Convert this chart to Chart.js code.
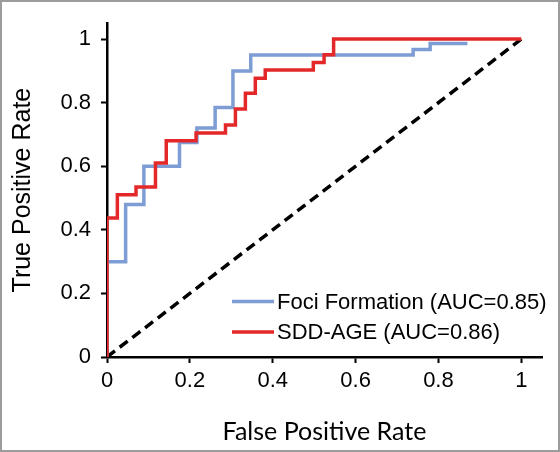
<!DOCTYPE html>
<html>
<head>
<meta charset="utf-8">
<script src="https://cdn.jsdelivr.net/npm/chart.js@4.4.1/dist/chart.umd.min.js"></script>
<style>
  html, body { margin: 0; padding: 0; background: #fff; }
  #wrap { width: 560px; height: 452px; }
</style>
</head>
<body>
<div id="wrap"><canvas id="rocChart" width="560" height="452"></canvas></div>
<script>
// ROC points (x = false positive rate, y = true positive rate)
const fociFpr = [0, 0.045, 0.089, 0.175, 0.217, 0.261, 0.304, 0.347, 0.739, 0.78, 0.87];
const fociTpr = [0, 0.30, 0.48, 0.60, 0.675, 0.72, 0.785, 0.90, 0.95, 0.967, 0.986];

const sddFpr = [0, 0.025, 0.07, 0.117, 0.143, 0.215, 0.286, 0.31, 0.334, 0.358, 0.382, 0.498, 0.524, 0.547, 1.0];
const sddTpr = [0, 0.437, 0.51, 0.535, 0.61, 0.68, 0.705, 0.73, 0.78, 0.83, 0.877, 0.903, 0.926, 0.951, 1.0];

const chanceX = [0, 1];
const chanceY = [0, 1];

const seriesLabels = ["Foci Formation (AUC=0.85)", "SDD-AGE (AUC=0.86)"];
const xTitle = "False Positive Rate";
const yTitle = "True Positive Rate";

const toPoints = (xs, ys) => xs.map((x, i) => ({ x: x, y: ys[i] }));
const tickText = (value) => String(Number(value.toFixed(1)));

const frame = {
  id: "frame",
  beforeDraw(chart) {
    const ctx = chart.ctx;
    ctx.save();
    ctx.fillStyle = "#fff";
    ctx.fillRect(0, 0, chart.width, chart.height);
    ctx.strokeStyle = "#9c9c9c";
    ctx.lineWidth = 2;
    ctx.strokeRect(1, 1, chart.width - 2, chart.height - 2);
    ctx.restore();
  },
};

// legend drawn inside the plot, bottom right
const innerLegend = {
  id: "innerLegend",
  afterDatasetsDraw(chart) {
    const ctx = chart.ctx;
    const area = chart.chartArea;
    const items = chart.data.datasets.filter((d) => d.label);
    ctx.save();
    ctx.font = "22px 'Liberation Sans', Arial, sans-serif";
    ctx.textBaseline = "middle";
    ctx.textAlign = "left";
    items.forEach((d, i) => {
      const y = area.bottom - 55.5 + i * 30.5;
      const x0 = area.left + 125;
      ctx.strokeStyle = d.borderColor;
      ctx.lineWidth = 3.5;
      ctx.beginPath();
      ctx.moveTo(x0, y);
      ctx.lineTo(x0 + 42, y);
      ctx.stroke();
      ctx.fillStyle = "#000";
      ctx.fillText(d.label, x0 + 45, y + 1);
    });
    ctx.restore();
  },
};

const ctx = document.getElementById("rocChart").getContext("2d");

const rocChart = new Chart(ctx, {
  type: "line",
  data: {
    datasets: [
      {
        label: "",
        data: toPoints(chanceX, chanceY),
        borderColor: "#000",
        borderWidth: 3.5,
        borderDash: [10, 6],
        pointRadius: 0,
        fill: false,
        order: 3,
      },
      {
        label: seriesLabels[0],
        data: toPoints(fociFpr, fociTpr),
        borderColor: "#7d9dd4",
        borderWidth: 3.5,
        stepped: "after",
        pointRadius: 0,
        fill: false,
        order: 2,
      },
      {
        label: seriesLabels[1],
        data: toPoints(sddFpr, sddTpr),
        borderColor: "#e4282a",
        borderWidth: 3.5,
        stepped: "after",
        pointRadius: 0,
        fill: false,
        order: 1,
      },
    ],
  },
  options: {
    responsive: false,
    animation: false,
    devicePixelRatio: 1,
    layout: {
      padding: { left: 0, right: 18, top: 12, bottom: 0 },
    },
    scales: {
      x: {
        type: "linear",
        min: 0,
        max: 1.05,
        afterFit: (scale) => {
          scale.height = 95;
        },
        ticks: {
          stepSize: 0.2,
          includeBounds: false,
          color: "#000",
          padding: 5,
          maxRotation: 0,
          callback: tickText,
          font: { family: "'Liberation Sans', Arial, sans-serif", size: 22 },
        },
        grid: {
          drawOnChartArea: false,
          drawTicks: true,
          tickLength: 6,
          tickWidth: 2,
          tickColor: "#000",
        },
        border: { display: true, color: "#000", width: 2.5 },
        title: {
          display: true,
          text: xTitle,
          color: "#000",
          font: { family: "Lato, 'Open Sans', sans-serif", size: 25 },
          padding: { top: 0, bottom: 5 },
        },
      },
      y: {
        type: "linear",
        min: 0,
        max: 1.05,
        afterFit: (scale) => {
          scale.width = 107;
        },
        ticks: {
          stepSize: 0.2,
          includeBounds: false,
          color: "#000",
          padding: 10,
          callback: tickText,
          font: { family: "'Liberation Sans', Arial, sans-serif", size: 22 },
        },
        grid: {
          drawOnChartArea: false,
          drawTicks: true,
          tickLength: 6,
          tickWidth: 2,
          tickColor: "#000",
        },
        border: { display: true, color: "#000", width: 2.5 },
        title: {
          display: true,
          text: yTitle,
          color: "#000",
          font: { family: "'Liberation Sans', Arial, sans-serif", size: 25 },
          padding: { top: 8, bottom: 0 },
        },
      },
    },
    plugins: {
      legend: { display: false },
      tooltip: { enabled: false },
    },
  },
  plugins: [frame, innerLegend],
});
</script>
</body>
</html>
